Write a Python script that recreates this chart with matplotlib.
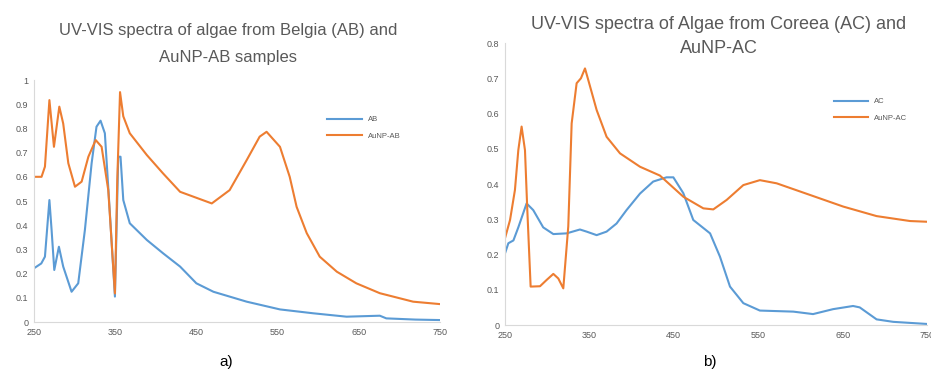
import numpy as np
import matplotlib
matplotlib.use('Agg')
import matplotlib.pyplot as plt

plt.rcParams['font.family'] = ['Liberation Sans', 'DejaVu Sans']

# ---- Panel a): algae from Belgia ----
wl_ab = [250, 259, 263.5, 269, 271.7, 275, 280.7, 286, 296.3, 304.5, 312.7,
         321, 327, 332, 337.3, 343.5, 349.7, 353.8, 356.6, 360, 368, 389, 409,
         430, 450, 471, 512, 553, 594, 635, 676, 684, 720, 750]
ab = [0.222, 0.242, 0.27, 0.504, 0.38, 0.215, 0.311, 0.229, 0.125, 0.16, 0.38,
      0.656, 0.807, 0.832, 0.78, 0.449, 0.105, 0.683, 0.683, 0.504, 0.408,
      0.339, 0.284, 0.229, 0.16, 0.125, 0.084, 0.052, 0.036, 0.022, 0.026,
      0.015, 0.01, 0.008]

wl_aunp_ab = [250, 259.3, 263.5, 269, 274.6, 281.2, 286, 292.3, 300.5, 308.7,
              317, 326, 333.3, 341.5, 349.7, 352.6, 356, 360, 368, 389, 409,
              430, 469, 491, 512, 528, 536.5, 553, 565, 573.5, 586, 602, 623,
              647, 676, 717, 750]
aunp_ab = [0.60, 0.60, 0.642, 0.917, 0.724, 0.89, 0.82, 0.656, 0.559, 0.58,
           0.683, 0.752, 0.724, 0.545, 0.118, 0.587, 0.95, 0.85, 0.78, 0.69,
           0.614, 0.538, 0.49, 0.545, 0.669, 0.766, 0.786, 0.724, 0.60, 0.476,
           0.367, 0.27, 0.208, 0.16, 0.119, 0.084, 0.074]

# ---- Panel b): algae from Coreea ----
wl_ac = [250, 254, 260, 265.8, 275.6, 283.5, 295.3, 307.3, 323, 338.8, 346.7,
         358.6, 370.4, 382.2, 394, 410, 425.6, 441.4, 449.5, 461.3, 473.1, 493,
         504.7, 516.6, 532.4, 552, 591.6, 615, 638.7, 662.4, 670.3, 690.3, 710,
         750]
ac = [0.203, 0.232, 0.24, 0.277, 0.345, 0.326, 0.277, 0.258, 0.26, 0.271,
      0.265, 0.255, 0.265, 0.288, 0.326, 0.373, 0.407, 0.419, 0.419, 0.374,
      0.298, 0.26, 0.194, 0.109, 0.062, 0.041, 0.038, 0.031, 0.045, 0.054,
      0.05, 0.016, 0.009, 0.003]

wl_aunp_ac = [250, 256, 261.8, 265.8, 269.7, 273.7, 276.4, 280.4, 291.5,
              299.4, 307.3, 313.2, 319.1, 325, 329, 334.9, 340, 344.8, 348.7,
              358.6, 370.4, 386.3, 410, 433.6, 461.3, 485, 496.8, 512.7, 532.4,
              552, 571.9, 611.4, 650.8, 690.3, 729.9, 750]
aunp_ac = [0.246, 0.298, 0.383, 0.496, 0.563, 0.496, 0.33, 0.109, 0.11, 0.128,
           0.145, 0.132, 0.104, 0.28, 0.572, 0.686, 0.70, 0.728, 0.695, 0.61,
           0.534, 0.487, 0.449, 0.424, 0.364, 0.331, 0.328, 0.355, 0.397,
           0.411, 0.402, 0.369, 0.336, 0.309, 0.295, 0.293]

blue = '#5B9BD5'
orange = '#ED7D31'
gray = '#595959'


def style_axes(ax, ymax):
    ax.set_xlim(250, 750)
    ax.set_ylim(0, ymax)
    ax.set_xticks(np.arange(250, 751, 100))
    yt = np.round(np.arange(0, ymax + 1e-9, 0.1), 1)
    ax.set_yticks(yt)
    ax.set_yticklabels(['%g' % v for v in yt])
    for s in ['top', 'right']:
        ax.spines[s].set_visible(False)
    for s in ['left', 'bottom']:
        ax.spines[s].set_color('#d9d9d9')
        ax.spines[s].set_linewidth(0.8)
    ax.tick_params(length=0, labelsize=6.5, colors=gray, pad=4)


fig = plt.figure(figsize=(9.31, 3.72), dpi=100)

ax1 = fig.add_axes([0.0365, 0.1344, 0.436, 0.6505])
ax1.plot(wl_ab, ab, color=blue, lw=1.5, label='AB')
ax1.plot(wl_aunp_ab, aunp_ab, color=orange, lw=1.5, label='AuNP-AB')
style_axes(ax1, 1.0)
ax1.legend(frameon=False, fontsize=5.5, loc='upper right',
           bbox_to_anchor=(0.92, 0.88), handlelength=4.5,
           labelcolor=gray, labelspacing=1.2)
fig.text(0.245, 0.882, 'UV-VIS spectra of algae from Belgia (AB) and\nAuNP-AB samples',
         ha='center', va='center', fontsize=12, color=gray, linespacing=2.0)

ax2 = fig.add_axes([0.5424, 0.1263, 0.4533, 0.758])
ax2.plot(wl_ac, ac, color=blue, lw=1.5, label='AC')
ax2.plot(wl_aunp_ac, aunp_ac, color=orange, lw=1.5, label='AuNP-AC')
style_axes(ax2, 0.8)
ax2.legend(frameon=False, fontsize=5.5, loc='upper right',
           bbox_to_anchor=(0.97, 0.83), handlelength=4.5,
           labelcolor=gray, labelspacing=1.2)
fig.text(0.772, 0.902, 'UV-VIS spectra of Algae from Coreea (AC) and\nAuNP-AC',
         ha='center', va='center', fontsize=13, color=gray, linespacing=1.6)

fig.text(0.243, 0.027, 'a)', ha='center', va='center', fontsize=11)
fig.text(0.762, 0.027, 'b)', ha='center', va='center', fontsize=11)

fig.savefig('out.png', dpi=100)
